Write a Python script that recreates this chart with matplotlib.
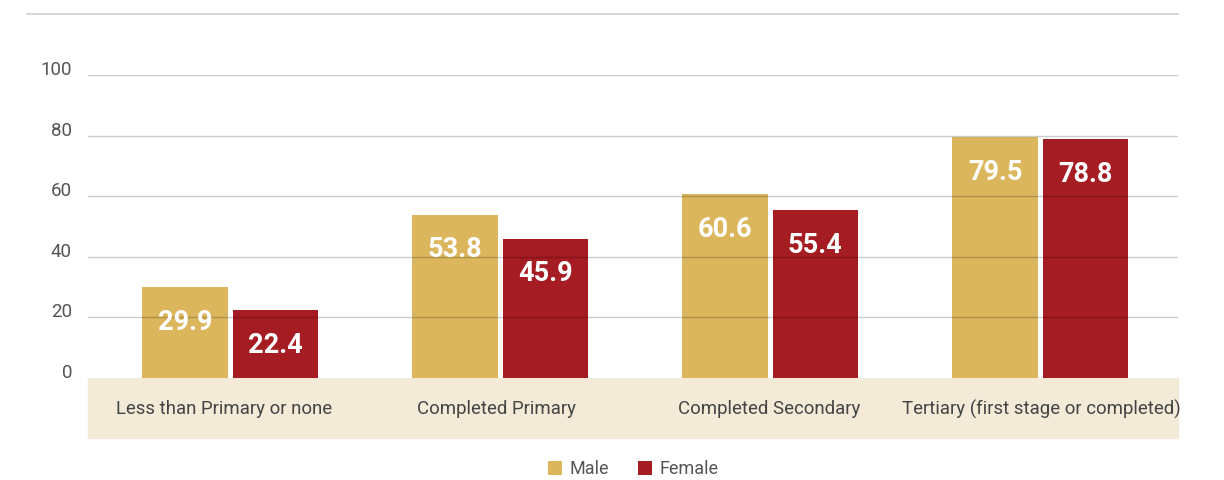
import matplotlib.pyplot as plt
from matplotlib.patches import Rectangle
import numpy as np

categories = ["Less than Primary or none", "Completed Primary",
              "Completed Secondary", "Tertiary (first stage or completed)"]
male = [29.9, 53.8, 60.6, 79.5]
female = [22.4, 45.9, 55.4, 78.8]
yticks = [0, 20, 40, 60, 80, 100]

MALE_C = "#DBB65C"
FEMALE_C = "#A51C22"
TEXT_C = "#555555"

plt.rcParams['font.family'] = ['Roboto', 'DejaVu Sans']

W, H = 1224, 480
fig = plt.figure(figsize=(W / 100, H / 100), dpi=100)
ax = fig.add_axes([88 / W, 102 / H, (1178 - 88) / W, (378 - 75) / H])

x = np.arange(len(categories))
bw = 0.315
gap = 0.0185
bm = ax.bar(x - (bw + gap) / 2, male, bw, color=MALE_C, zorder=1, label="Male")
bf = ax.bar(x + (bw + gap) / 2, female, bw, color=FEMALE_C, zorder=1, label="Female")

for bars, vals in ((bm, male), (bf, female)):
    for b, v in zip(bars, vals):
        ax.annotate(f"{v:.1f}", (b.get_x() + b.get_width() / 2, v),
                    xytext=(0, -35), textcoords="offset pixels",
                    ha="center", va="center", color="white",
                    fontsize=19.5, fontweight="bold", zorder=4)

x0, x1 = -0.526, 3.511
ax.set_xlim(x0, x1)
ax.set_ylim(0, 100)
ax.set_yticks(yticks)
for yv in yticks[1:]:
    ax.axhline(yv, color="black", alpha=0.2, lw=1, zorder=3)
ax.tick_params(axis="y", length=0, pad=11.5, labelsize=13.5, labelcolor=TEXT_C)
for lab in ax.get_yticklabels():
    lab.set_verticalalignment("baseline")
# category labels sit at the centre of equal-width bands
band = (x1 - x0) / len(categories)
ax.set_xticks(x0 + band * (x + 0.5))
ax.set_xticklabels(categories)
ax.tick_params(axis="x", length=0, pad=16, labelsize=13.4, labelcolor="#444444")
for s in ax.spines.values():
    s.set_visible(False)

# beige band behind category labels
fig.patches.append(Rectangle((88 / W, (H - 438) / H), (1178 - 88) / W, 60 / H,
                             transform=fig.transFigure, color="#F3EAD7", zorder=-1))
# thin rule at the top
fig.add_artist(plt.Line2D([27 / W, 1178 / W], [(H - 14) / H] * 2,
                          transform=fig.transFigure, color="#d0d0d0", lw=1.2))

fig.legend(handles=[bm, bf], labels=["Male", "Female"], loc="center",
           bbox_to_anchor=(633 / W, (H - 469) / H), ncol=2, frameon=False,
           fontsize=13, handlelength=0.8, handleheight=0.8, handletextpad=0.4,
           columnspacing=1.6, labelcolor=TEXT_C)

fig.savefig("out.png", dpi=100, facecolor="white")
